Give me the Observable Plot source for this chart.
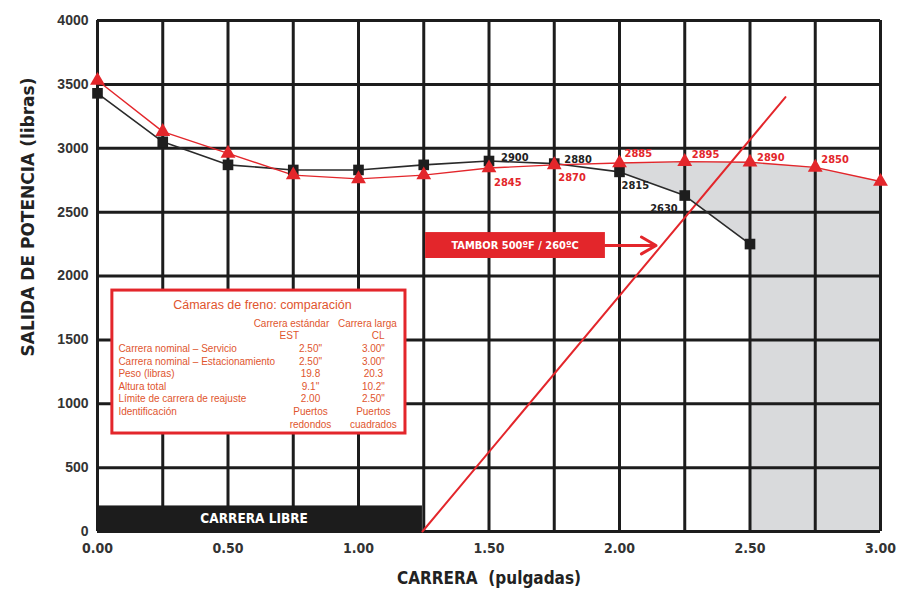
<!DOCTYPE html>
<html><head><meta charset="utf-8">
<script src="https://cdn.jsdelivr.net/npm/d3@7"></script>
<script src="https://cdn.jsdelivr.net/npm/@observablehq/plot@0.6"></script>
<style>
html,body{margin:0;padding:0;background:#fff;}
</style></head><body><div id="chart"></div>
<script>
// ---- data ----
const carrera = [0, 0.25, 0.5, 0.75, 1.0, 1.25, 1.5, 1.75, 2.0, 2.25, 2.5, 2.75, 3.0];
const salidaEstandar = [3430, 3050, 2870, 2830, 2830, 2870, 2900, 2880, 2815, 2630, 2250];
const salidaLarga = [3530, 3130, 2960, 2790, 2760, 2790, 2845, 2870, 2885, 2895, 2890, 2850, 2740];
const yTicks = [0, 500, 1000, 1500, 2000, 2500, 3000, 3500, 4000];
const xTicks = [0, 0.5, 1.0, 1.5, 2.0, 2.5, 3.0];
const carreraLibreFin = 1.245;
const tamborLineaX = [1.245, 2.636];
const tamborLineaY = [0, 3400];
const tamborTexto = "TAMBOR 500ºF / 260ºC";
const tablaTitulo = "Cámaras de freno: comparación";
const tablaEncabezado1 = ["Carrera estándar", "Carrera larga"];
const tablaEncabezado2 = ["EST", "CL"];
const tablaFilas = ["Carrera nominal – Servicio", "Carrera nominal – Estacionamiento", "Peso (libras)", "Altura total", "Límite de carrera de reajuste", "Identificación", ""];
const tablaEST = ["2.50\"", "2.50\"", "19.8", "9.1\"", "2.00", "Puertos", "redondos"];
const tablaCL = ["3.00\"", "3.00\"", "20.3", "10.2\"", "2.50\"", "Puertos", "cuadrados"];

// ---- derived tables ----
const est = salidaEstandar.map((v, i) => ({x: carrera[i], y: v, i}));
const larga = salidaLarga.map((v, i) => ({x: carrera[i], y: v, i}));
const zonaA = carrera.map((c, i) => ({x: c, y1: salidaEstandar[i], y2: salidaLarga[i]})).filter(d => d.x >= 2 && d.x <= 2.5);
const zonaB = larga.filter(d => d.x >= 2.5).map(d => ({x: d.x, y1: 0, y2: d.y}));
const tamborLinea = tamborLineaX.map((x, i) => ({x, y: tamborLineaY[i]}));

const red = "#e3262b";
const ink = "#1c1c1c";
const tableInk = "#e0552e";

const rowY = [1432, 1331, 1237, 1135, 1041, 939, 838];
const tabla = tablaFilas.map((f, i) => ({f, a: tablaEST[i], b: tablaCL[i], y: rowY[i]}));

const estLabels = [
  {i: 6, dx: 12, dy: -4, anchor: "start"},
  {i: 7, dx: 10, dy: -4, anchor: "start"},
  {i: 8, dx: 2, dy: 14, anchor: "start"},
  {i: 9, dx: -7, dy: 13, anchor: "end"}
];
const largaLabels = [
  {i: 6, dx: 5, dy: 14, anchor: "start"},
  {i: 7, dx: 4, dy: 13, anchor: "start"},
  {i: 8, dx: 5, dy: -9, anchor: "start"},
  {i: 9, dx: 7, dy: -7, anchor: "start"},
  {i: 10, dx: 7, dy: -5, anchor: "start"},
  {i: 11, dx: 6, dy: -8, anchor: "start"}
];
const labelFont = "DejaVu Sans Condensed, DejaVu Sans, sans-serif";
const tableFont = "Liberation Sans, Arial, sans-serif";

const marks = [
  Plot.areaY(zonaA, {x: "x", y1: "y1", y2: "y2", fill: "#d9dadc"}),
  Plot.areaY(zonaB, {x: "x", y1: "y1", y2: "y2", fill: "#d9dadc"}),
  Plot.ruleX(carrera, {stroke: ink, strokeWidth: 3}),
  Plot.ruleY(yTicks, {stroke: ink, strokeWidth: 3}),
  Plot.rect([0], {x1: 0, x2: carreraLibreFin, y1: 0, y2: 200, fill: ink}),
  Plot.text(["CARRERA LIBRE"], {x: 0.6, y: 100, text: d => d, fill: "white", fontWeight: "bold", fontSize: 13.5, fontFamily: labelFont}),
  Plot.rect([0], {x1: 0.057, x2: 1.18, y1: 767, y2: 1886, fill: "white", stroke: red, strokeWidth: 3}),
  Plot.text([tablaTitulo], {x: 0.632, y: 1776, text: d => d, fill: tableInk, fontSize: 12.5, fontFamily: tableFont}),
  Plot.text(tablaEncabezado1, {x: (d, i) => [0.743, 1.034][i], y: 1628, text: d => d, fill: tableInk, fontSize: 10, fontFamily: tableFont}),
  Plot.text(tablaEncabezado2, {x: (d, i) => [0.735, 1.075][i], y: 1534, text: d => d, fill: tableInk, fontSize: 10, fontFamily: tableFont}),
  Plot.text(tabla, {x: 0.08, y: "y", text: "f", textAnchor: "start", fill: tableInk, fontSize: 10, fontFamily: tableFont}),
  Plot.text(tabla, {x: 0.816, y: "y", text: "a", fill: tableInk, fontSize: 10, fontFamily: tableFont}),
  Plot.text(tabla, {x: 1.057, y: "y", text: "b", fill: tableInk, fontSize: 10, fontFamily: tableFont}),
  Plot.line(tamborLinea, {x: "x", y: "y", stroke: red, strokeWidth: 2}),
  Plot.rect([0], {x1: 1.257, x2: 1.946, y1: 2137, y2: 2340, fill: red}),
  Plot.text([tamborTexto], {x: 1.6, y: 2239, text: d => d, fill: "white", fontWeight: "bold", fontSize: 11, fontFamily: labelFont}),
  Plot.arrow([0], {x1: 1.946, y1: 2239, x2: 2.14, y2: 2239, stroke: red, strokeWidth: 3, headLength: 10}),
  Plot.line(est, {x: "x", y: "y", stroke: "#2a2a2a", strokeWidth: 1.6}),
  Plot.line(larga, {x: "x", y: "y", stroke: red, strokeWidth: 1.4}),
  Plot.dot(est, {x: "x", y: "y", symbol: "square", r: 6, fill: "#1e1e1e"}),
  Plot.dot(larga, {x: "x", y: "y", symbol: "triangle", r: 5.5, fill: red})
];
for (const l of estLabels) {
  marks.push(Plot.text([est[l.i]], {x: "x", y: "y", text: d => String(d.y), dx: l.dx, dy: l.dy, textAnchor: l.anchor, fill: "#222", fontSize: 11, fontWeight: "bold", fontFamily: labelFont}));
}
for (const l of largaLabels) {
  marks.push(Plot.text([larga[l.i]], {x: "x", y: "y", text: d => String(d.y), dx: l.dx, dy: l.dy, textAnchor: l.anchor, fill: red, fontSize: 11, fontWeight: "bold", fontFamily: labelFont}));
}
marks.push(
  Plot.axisY(yTicks, {tickSize: 0, tickPadding: 9, fontSize: 14, fontWeight: "bold", fill: "#333", label: null, tickFormat: d => String(d), fontFamily: "Liberation Sans, Arial, sans-serif"}),
  Plot.axisX(xTicks, {tickSize: 0, tickPadding: 12, fontSize: 14, fontWeight: "bold", fill: "#333", label: null, tickFormat: d => d.toFixed(2), fontFamily: labelFont}),
  Plot.text(["SALIDA DE POTENCIA (libras)"], {frameAnchor: "left", textAnchor: "middle", lineAnchor: "middle", dx: -69, dy: -59, rotate: -90, text: d => d, fontSize: 17, fontWeight: "bold", fill: "#222", fontFamily: "DejaVu Sans, sans-serif"}),
  Plot.text(["CARRERA  (pulgadas)"], {frameAnchor: "bottom", textAnchor: "middle", lineAnchor: "middle", dy: 47, text: d => d, fontSize: 17, fontWeight: "bold", fill: "#222", fontFamily: labelFont})
);

const chart = Plot.plot({
  width: 899, height: 590,
  marginLeft: 97, marginRight: 19, marginTop: 20, marginBottom: 59,
  x: {domain: [0, 3]},
  y: {domain: [0, 4000]},
  style: {background: "#fff", overflow: "visible"},
  marks
});
document.getElementById("chart").appendChild(chart);
</script>
</body></html>
